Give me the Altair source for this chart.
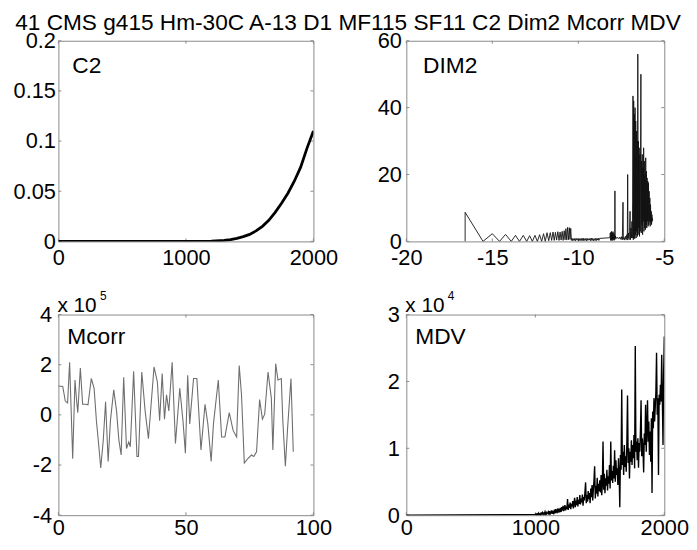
import altair as alt
import pandas as pd

FONT = "Liberation Sans"
FRAME = "#8a8a8a"
TITLE = "41 CMS g415 Hm-30C A-13 D1 MF115 SF11 C2 Dim2 Mcorr MDV"

# ---------------- C2 ----------------
c2_x = [0, 1100, 1200, 1300, 1350, 1400, 1450, 1500, 1550, 1600, 1650, 1700,
        1750, 1800, 1850, 1900, 1950, 2000]
c2_y = [0, 0, 0.0003, 0.001, 0.0018, 0.003, 0.0048, 0.007, 0.0105, 0.015, 0.021,
        0.029, 0.038, 0.048, 0.06, 0.074, 0.093, 0.11]

# ---------------- DIM2 ----------------
dim2_a_x = [-16.58, -16.58, -15.54, -15.0, -14.58, -14.23, -13.9, -13.65, -13.42, -13.2,
            -13.0, -12.83, -12.67, -12.52, -12.38, -12.25, -12.13, -12.02, -11.92, -11.82,
            -11.72, -11.63, -11.55, -11.47, -11.4, -11.33, -11.26, -11.19, -11.12, -11.06,
            -11.0, -10.94, -10.88, -10.82, -10.77, -10.72, -10.67, -10.62, -10.57, -10.52,
            -10.48, -10.44]
dim2_a_y = [0, 8.7, 0, 2.3, 0, 2.1, 0, 1.8, 0, 1.8,
            0, 1.7, 0, 1.8, 0, 2.0, 0, 2.3, 0, 2.6,
            0.2, 2.6, 0.3, 2.8, 0.3, 2.7, 0.4, 2.9, 0.3, 2.8,
            0.4, 3.0, 0.3, 3.2, 0.5, 3.8, 0.4, 4.2, 0.5, 4.1,
            0.6, 3.9]
dim2_b_x = [-10.40, -10.36, -10.32, -10.28, -10.24, -10.20, -10.16, -10.12, -10.08, -10.04,
            -10.00, -9.96, -9.92, -9.88, -9.84, -9.80, -9.76, -9.72, -9.68, -9.64,
            -9.60, -9.56, -9.52, -9.48, -9.44, -9.40, -9.36, -9.32, -9.28, -9.24,
            -9.20, -9.16, -9.12, -9.08, -9.04, -9.00, -8.96, -8.92, -8.88, -8.84,
            -8.80, -8.76]
dim2_b_y = [0.3, 0.9, 0.2, 0.8, 0.3, 0.9, 0.2, 0.9, 0.4, 0.8,
            0.2, 0.9, 0.3, 0.8, 0.2, 0.9, 0.3, 1.0, 0.2, 0.8,
            0.3, 0.9, 0.2, 0.9, 0.3, 0.8, 0.4, 0.9, 0.2, 1.0,
            0.3, 0.9, 0.2, 0.8, 0.3, 0.9, 0.2, 0.9, 0.4, 1.0,
            0.3, 0.9]
dim2_c_x = [-8.74, -8.18]
dim2_c_y = [0.9, 1.1]
dim2_d_x = [-8.16, -8.14, -8.12, -8.10, -8.08, -8.06, -8.04, -8.02, -8.00, -7.98,
            -7.96, -7.94, -7.92, -7.90, -7.88, -7.87, -7.86, -7.84, -7.82, -7.80,
            -7.76, -7.70, -7.64, -7.58, -7.52, -7.48, -7.44, -7.40, -7.38, -7.34,
            -7.30, -7.26, -7.22, -7.18, -7.15, -7.13, -7.11, -7.08, -7.05, -7.02,
            -6.99, -6.97, -6.94, -6.91, -6.88]
dim2_d_y = [1.1, 2.5, 0.3, 2.8, 0.5, 3.0, 0.2, 2.6, 0.4, 2.9,
            0.6, 2.4, 0.3, 2.0, 0.5, 15.1, 1.0, 1.6, 0.8, 1.2,
            0.9, 1.2, 0.8, 1.3, 0.6, 1.4, 0.5, 11.7, 0.6, 1.2,
            0.4, 1.5, 0.6, 2.0, 0.4, 20.0, 1.0, 2.5, 0.5, 3.0,
            9.0, 0.5, 4.0, 1.0, 6.0]
dim2_f_x = [-6.86, -6.84, -6.82, -6.80, -6.78, -6.76, -6.74, -6.72, -6.70, -6.68,
            -6.66, -6.64, -6.62, -6.60, -6.58, -6.56, -6.54, -6.52, -6.50, -6.48,
            -6.46, -6.44, -6.42, -6.40, -6.38, -6.36, -6.34, -6.32, -6.30, -6.28,
            -6.26, -6.24, -6.22, -6.20, -6.18, -6.16, -6.14, -6.12, -6.10, -6.08,
            -6.06, -6.04, -6.02, -6.00, -5.98, -5.96, -5.94, -5.92, -5.90, -5.88,
            -5.86, -5.84, -5.82, -5.80, -5.78, -5.76, -5.74, -5.72, -5.70, -5.68]
dim2_f_y = [1.0, 12, 43.5, 0.5, 42, 1.0, 38, 0.8, 40, 2.0,
            36, 1.0, 33, 3.0, 30, 1.5, 56, 2.0, 30, 4.0,
            28, 1.5, 26, 3.0, 27, 50, 2.5, 24, 5.0, 26,
            2.0, 22, 6.0, 28, 3.0, 24, 4.0, 20, 3.5, 25,
            5.0, 21, 4.0, 19, 6.0, 18, 4.5, 17.5, 5.0, 15,
            6.0, 13, 4.5, 11, 5.5, 9, 5.0, 8, 6.0, 7]
dim2_x = dim2_a_x + dim2_b_x + dim2_c_x + dim2_d_x + dim2_f_x
dim2_y = dim2_a_y + dim2_b_y + dim2_c_y + dim2_d_y + dim2_f_y

# ---------------- Mcorr (x 10^5) ----------------
mcorr_x = [0, 1.7, 2.7, 3.6, 4.4, 5.6, 6.5, 7.1, 7.6, 8.6,
           9.5, 10.7, 11.6, 12.9, 14, 14.9, 15.8, 16.6, 17.6, 18.5,
           19.5, 20.4, 21.7, 22.8, 23.7, 24.6, 25.6, 26.7, 27.6, 28.2,
           29.5, 30.8, 31.4, 32.7, 34, 35.3, 36.5, 37.5, 38.8, 39.7,
           40.7, 41.6, 42.4, 43.3, 44.6, 45.9, 47.6, 48.9, 49.8, 50.7,
           51.5, 53, 54.3, 55.9, 57.5, 58.6, 59.9, 60.8, 62.7, 64,
           65.3, 67, 68.5, 69.9, 70.9, 71.8, 72.9, 74.4, 75.7, 76.6,
           77.7, 78.9, 80, 80.9, 82.2, 83.5, 84.1, 85.2, 86.1, 87.4,
           88, 89, 89.9, 91.2, 92.1]
mcorr_y = [1.15, 1.13, 0.55, 0.48, 2.1, -1.75, 1.39, 0.6, 0.09, 1.87,
           0.42, 0.42, 0.4, 1.45, 1.06, -0.23, -1.2, -2.12, -1.0, 0.52,
           -1.86, -0.23, 1.0, 0.16, -1.0, -1.6, 1.5, -1.34, -1.08, -1.27,
           1.74, -1.66, -1.66, 1.71, 0.16, -0.95, 0.6, 1.91, 1.32, -0.23,
           1.65, -0.17, 0.8, 0.16, 2.1, -1.14, 1.06, -0.3, -1.53, 1.58,
           -0.36, 1.45, 1.45, -1.4, 0.42, -0.36, -1.86, -0.36, 1.39, -0.88,
           -0.88, 0.09, -0.62, -0.88, 1.97, 0.8, -1.92, -1.73, -1.6, -1.66,
           -1.47, 0.61, -0.17, 0.03, 1.71, 0.67, -1.4, 2.04, 1.39, 1.45,
           -0.23, -2.05, -0.49, 1.45, -1.47]

# ---------------- MDV (x 10^4) ----------------
mdv_x = [0] + list(range(1000, 2001, 5))
mdv_y = [0,
         0.01, 0.02, 0.00, 0.02, 0.01, 0.03, 0.01, 0.02, 0.00, 0.03,
         0.02, 0.04, 0.01, 0.03, 0.02, 0.05, 0.01, 0.04, 0.02, 0.03,
         0.05, 0.01, 0.06, 0.02, 0.04, 0.07, 0.02, 0.05, 0.03, 0.06,
         0.04, 0.09, 0.03, 0.07, 0.05, 0.10, 0.04, 0.08, 0.06, 0.11,
         0.05, 0.12, 0.07, 0.14, 0.06, 0.10, 0.15, 0.07, 0.13, 0.09,
         0.24, 0.08, 0.16, 0.11, 0.19, 0.09, 0.17, 0.13, 0.21, 0.10,
         0.18, 0.26, 0.12, 0.22, 0.15, 0.27, 0.13, 0.23, 0.17, 0.30,
         0.16, 0.25, 0.19, 0.31, 0.14, 0.27, 0.22, 0.35, 0.49, 0.18,
         0.30, 0.20, 0.36, 0.24, 0.33, 0.18, 0.40, 0.27, 0.45, 0.22,
         0.38, 0.52, 0.73, 0.25, 0.44, 0.32, 0.56, 0.28, 0.47, 0.36,
         0.52, 0.34, 0.60, 0.30, 0.48, 1.10, 0.38, 0.62, 0.33, 0.55,
         0.44, 0.68, 0.37, 0.58, 0.47, 0.75, 0.40, 1.10, 0.52, 0.66,
         0.48, 0.74, 0.55, 0.97, 0.50, 0.82, 0.60, 0.70, 0.45, 0.85,
         0.62, 0.12, 0.90, 0.68, 1.88, 0.75, 0.95, 0.60, 1.05, 0.72,
         0.88, 0.65, 1.10, 1.79, 0.78, 1.00, 0.55, 0.95, 0.80, 1.12,
         0.75, 1.05, 0.85, 1.20, 0.70, 2.53, 0.95, 1.10, 0.82, 1.15,
         0.71, 1.08, 0.95, 1.25, 1.72, 0.88, 1.15, 0.98, 0.64, 1.22,
         1.05, 1.65, 0.95, 1.30, 1.72, 1.10, 1.40, 0.90, 1.25, 0.80,
         1.45, 0.33, 1.55, 1.30, 1.75, 1.40, 1.62, 1.85, 2.43, 1.50,
         1.75, 0.60, 1.80, 1.65, 1.95, 1.70, 2.40, 1.75, 1.05, 2.10,
         2.67]

assert len(dim2_x) == len(dim2_y)
assert len(mcorr_x) == len(mcorr_y)
assert len(mdv_x) == len(mdv_y)


def panel(xs, ys, xdom, xticks, ydom, yticks, label, lab_pos, color, sw, w, h,
          ypad, xpad, expo=None, expo_dx=42, title=None):
    df = pd.DataFrame({"x": xs, "y": ys, "i": list(range(len(xs)))})
    xenc = alt.X("x:Q", scale=alt.Scale(domain=xdom, nice=False, zero=False),
                 axis=alt.Axis(values=xticks, title=None, labelExpr="'' + datum.value",
                               labelFlush=False, labelOverlap=False, labelPadding=xpad,
                               labelFont=FONT, labelFontSize=22, labelColor="black",
                               ticks=False, tickSize=0, domain=False, grid=False))
    yenc = alt.Y("y:Q", scale=alt.Scale(domain=ydom, nice=False, zero=False),
                 axis=alt.Axis(values=yticks, title=None, labelExpr="'' + datum.value",
                               labelOverlap=False, labelPadding=ypad,
                               labelFont=FONT, labelFontSize=22, labelColor="black",
                               ticks=False, tickSize=0, domain=False, grid=False))
    line = alt.Chart(df).mark_line(color=color, strokeWidth=sw, clip=True).encode(
        x=xenc, y=yenc, order="i:Q")
    tx = pd.DataFrame({"x": xticks})
    ty = pd.DataFrame({"y": yticks})
    tk = dict(color=FRAME, strokeWidth=1)
    xb = alt.Chart(tx).mark_rule(**tk).encode(x=xenc, y=alt.value(h), y2=alt.value(h - 3))
    xt = alt.Chart(tx).mark_rule(**tk).encode(x=xenc, y=alt.value(0), y2=alt.value(3))
    yl = alt.Chart(ty).mark_rule(**tk).encode(y=yenc, x=alt.value(0), x2=alt.value(3))
    yr = alt.Chart(ty).mark_rule(**tk).encode(y=yenc, x=alt.value(w), x2=alt.value(w - 3))
    txt = alt.Chart(pd.DataFrame({"t": [label]})).mark_text(
        align="left", baseline="alphabetic", fontSize=23, font=FONT, color="black"
    ).encode(text="t:N", x=alt.value(lab_pos[0]), y=alt.value(lab_pos[1]))
    layers = [xb, xt, yl, yr, line, txt]
    if expo is not None:
        e1 = alt.Chart(pd.DataFrame({"t": ["x 10"]})).mark_text(
            align="left", baseline="alphabetic", fontSize=21, font=FONT, color="black"
        ).encode(text="t:N", x=alt.value(-1), y=alt.value(-3))
        e2 = alt.Chart(pd.DataFrame({"t": [expo]})).mark_text(
            align="left", baseline="alphabetic", fontSize=12, font=FONT, color="black"
        ).encode(text="t:N", x=alt.value(expo_dx), y=alt.value(-15))
        layers += [e1, e2]
    if title is not None:
        tt = alt.Chart(pd.DataFrame({"t": [title]})).mark_text(
            align="center", baseline="top", fontSize=22.9, font=FONT, color="black"
        ).encode(text="t:N", x=alt.value(293), y=alt.value(-29))
        layers += [tt]
    return alt.layer(*layers).properties(width=w, height=h)


tl = panel(c2_x, c2_y, [0, 2000], [0, 1000, 2000], [0, 0.2], [0, 0.05, 0.1, 0.15, 0.2],
           "C2", (14, 33), "black", 2.8, 258, 203, 3, 6, title=TITLE)
tr = panel(dim2_x, dim2_y, [-20, -5], [-20, -15, -10, -5], [0, 60], [0, 20, 40, 60],
           "DIM2", (17, 33), "#111111", 0.9, 261, 203, 5, 6)
bl = panel(mcorr_x, mcorr_y, [0, 100], [0, 50, 100], [-4, 4], [-4, -2, 0, 2, 4],
           "Mcorr", (9, 30), "#6e6e6e", 1.1, 258, 203, 7, 3, expo="5", expo_dx=42)
br = panel(mdv_x, mdv_y, [0, 2000], [0, 1000, 2000], [0, 3], [0, 1, 2, 3],
           "MDV", (9, 30), "#000000", 1.4, 261, 203, 7, 3, expo="4", expo_dx=42)

chart = alt.concat(
    tl, tr, bl, br, columns=2, bounds="flush",
    spacing={"row": 74, "column": 94},
).properties(
    padding={"left": 4, "top": 0, "right": 0, "bottom": 0},
    background="white",
).configure_view(
    stroke=FRAME, strokeWidth=1
)

chart.save("out.html", embed_options={"renderer": "svg", "actions": False})
